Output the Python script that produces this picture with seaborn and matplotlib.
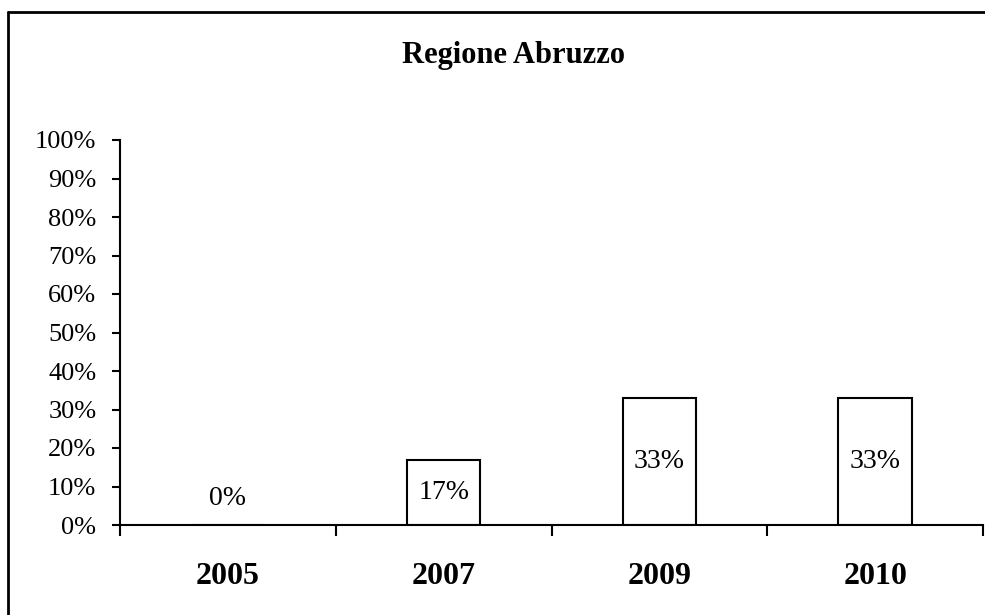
import matplotlib
matplotlib.use('Agg')
import matplotlib.pyplot as plt
import seaborn as sns
import numpy as np
import pandas as pd
from matplotlib.lines import Line2D

# Chart data
years = ['2005', '2007', '2009', '2010']
shares = [0, 17, 33, 33]
yticks = list(range(0, 101, 10))
title = 'Regione Abruzzo'

sns.set_style('white')
plt.rcParams['font.family'] = ['Liberation Serif', 'DejaVu Serif']
plt.rcParams['text.color'] = 'black'
plt.rcParams['xtick.color'] = 'black'
plt.rcParams['ytick.color'] = 'black'

df = pd.DataFrame({'year': years, 'share': shares})

fig = plt.figure(figsize=(9.85, 6.15), dpi=100)
ax = fig.add_axes([120 / 985, 90 / 615, 863 / 985, 385 / 615])

sns.barplot(data=df, x='year', y='share', ax=ax, width=0.34,
            color='white', edgecolor='black', linewidth=1.5, saturation=1)

ax.set_ylim(0, 100)
ax.set_xlim(-0.5, len(years) - 0.5)
ax.set_yticks(yticks)
ax.set_yticklabels([f'{t}%' for t in yticks], fontsize=19)
ax.set_xticks(range(len(years)))
ax.set_xticklabels(years, fontsize=23, fontweight='bold')
ax.set_xticks(np.arange(-0.5, len(years)), minor=True)
ax.tick_params(axis='x', which='major', length=0, pad=27)
ax.tick_params(axis='x', which='minor', length=8, width=1.5, direction='out', bottom=True)
ax.tick_params(axis='y', length=6, width=1.5, direction='out', left=True, pad=11)
ax.set_xlabel('')
ax.set_ylabel('')

for s in ['top', 'right']:
    ax.spines[s].set_visible(False)
for s in ['left', 'bottom']:
    ax.spines[s].set_linewidth(1.5)
    ax.spines[s].set_color('black')

# labels inside the bars
for i, v in enumerate(shares):
    y = v / 2 if v > 0 else 7
    ax.text(i, y, f'{v}%', ha='center', va='center', fontsize=20, color='black')

fig.text(513 / 985, 1 - 55 / 615, title, ha='center', va='center',
         fontsize=22, fontweight='bold', color='black')

# chart area border (left and top visible)
fig.add_artist(Line2D([8 / 985, 8 / 985], [0, 1 - 12 / 615], color='black', lw=2,
                      transform=fig.transFigure))
fig.add_artist(Line2D([8 / 985, 1], [1 - 12 / 615, 1 - 12 / 615], color='black', lw=2,
                      transform=fig.transFigure))

fig.savefig('out.png', dpi=100)
